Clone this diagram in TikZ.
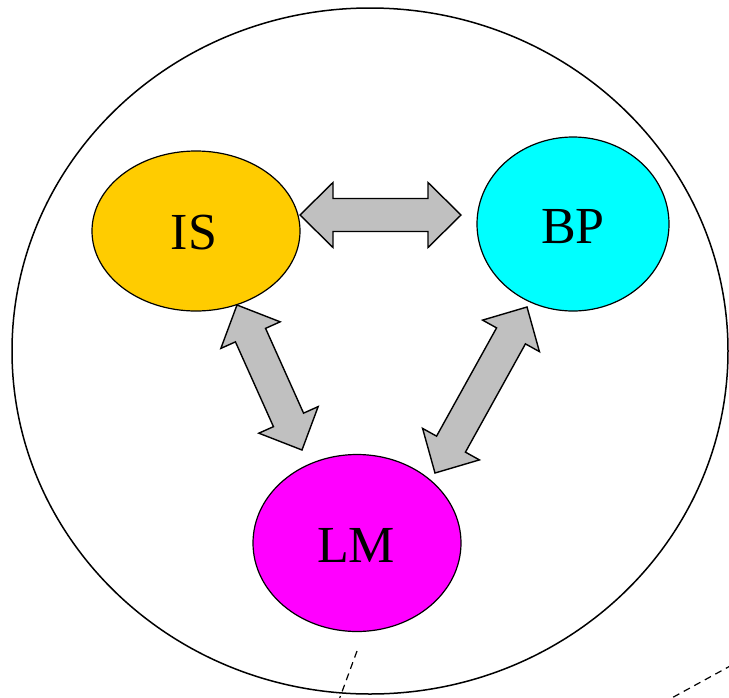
\documentclass[tikz,border=0pt]{standalone}
\usepackage{fontspec}
\setmainfont{Liberation Serif}
\usetikzlibrary{calc,shapes.geometric}
\definecolor{isyellow}{RGB}{255,204,0}
\definecolor{bpcyan}{RGB}{0,255,255}
\definecolor{lmmagenta}{RGB}{255,0,255}
\definecolor{arrgray}{RGB}{192,192,192}
\tikzset{
  blob/.style={draw=black, line width=1.2pt, ellipse, inner sep=0pt},
  lbl/.style={font=\fontsize{52}{52}\selectfont},
  dblarrow/.style={draw=black, fill=arrgray, line width=1.4pt, line join=miter},
  outline/.style={draw=black, line width=1.5pt},
  dashline/.style={draw=black, line width=1.2pt, dash pattern=on 7pt off 5pt}
}
% double arrow between two tip coordinates
\newcommand\mydblarrow[2]{%
  \path[dblarrow]
    (#1)
    -- ($($(#1)!33pt!(#2)$)!32.5pt!90:(#2)$)
    -- ($($(#1)!33pt!(#2)$)!16.5pt!90:(#2)$)
    -- ($($(#2)!33pt!(#1)$)!16.5pt!-90:(#1)$)
    -- ($($(#2)!33pt!(#1)$)!32.5pt!-90:(#1)$)
    -- (#2)
    -- ($($(#2)!33pt!(#1)$)!32.5pt!90:(#1)$)
    -- ($($(#2)!33pt!(#1)$)!16.5pt!90:(#1)$)
    -- ($($(#1)!33pt!(#2)$)!16.5pt!-90:(#2)$)
    -- ($($(#1)!33pt!(#2)$)!32.5pt!-90:(#2)$)
    -- cycle;}
\begin{document}
\begin{tikzpicture}[x=1pt,y=-1pt]
\useasboundingbox (0,0) rectangle (729,697);
% big circle
\path[outline] (370,351) ellipse [x radius=358, y radius=343];
% nodes
\node[blob, fill=isyellow, minimum width=208pt, minimum height=160pt] (IS) at (196,231) {};
\node[blob, fill=bpcyan, minimum width=192pt, minimum height=174pt] (BP) at (573,224) {};
\node[blob, fill=lmmagenta, minimum width=208pt, minimum height=177pt] (LM) at (357,543) {};
\node[lbl] (IStext) at (194,233) {IS};
\node[lbl] (BPtext) at (573,227) {BP};
\node[lbl] (LMtext) at (356,545) {LM};
% arrow tips
\coordinate (a1) at (300,215);
\coordinate (a2) at (461,215);
\coordinate (b1) at (237,305);
\coordinate (b2) at (302,450);
\coordinate (c1) at (527,307);
\coordinate (c2) at (435,473);
\mydblarrow{a1}{a2}
\mydblarrow{b1}{b2}
\mydblarrow{c1}{c2}
% dashed lines
\coordinate (d1) at (357,651);
\coordinate (d2) at (339,700);
\coordinate (e1) at (732,665);
\coordinate (e2) at (668,700);
\path[dashline] (d1) -- (d2);
\path[dashline] (e1) -- (e2);
\end{tikzpicture}
\end{document}
